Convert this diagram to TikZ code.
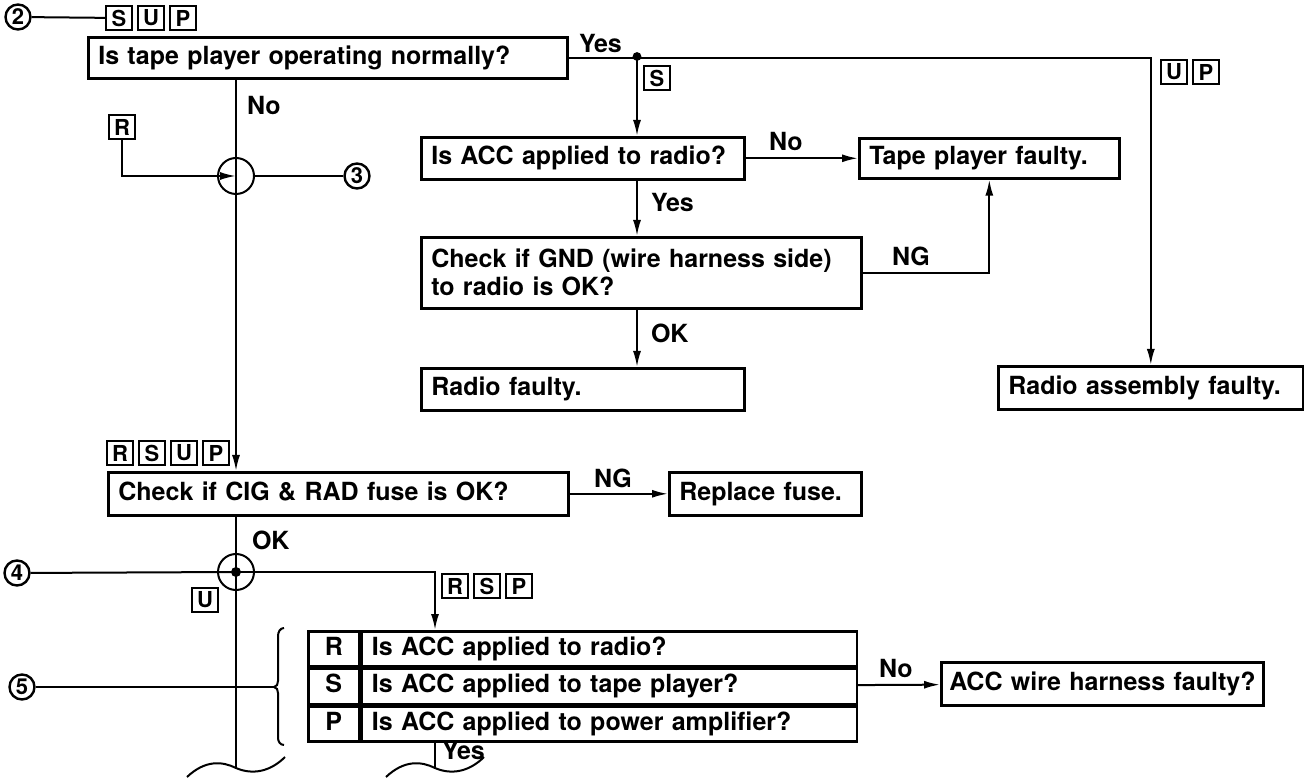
\documentclass[tikz,border=0pt]{standalone}
\usepackage{fontspec}
\setmainfont{TeX Gyre Heros}
\usepackage{tikz}
\usetikzlibrary{positioning,arrows.meta}

\tikzset{
  box/.style={draw,line width=1.3pt,anchor=north west,align=left,inner xsep=5pt,inner ysep=0pt,
    font=\fontsize{12.5}{14}\selectfont\bfseries},
  onel/.style={text height=9pt,text depth=2.7pt},
  cell/.style={draw,line width=1.3pt,anchor=north west,minimum width=25.5pt,minimum height=17.5pt,
    inner sep=0pt,onel,font=\fontsize{12.5}{14}\selectfont\bfseries},
  cellq/.style={box,onel,text width=237.5pt,minimum height=17.5pt},
  tag/.style={draw,line width=1pt,minimum width=13pt,minimum height=12pt,inner sep=0pt,
    font=\fontsize{11}{11}\selectfont\bfseries},
  numc/.style={circle,draw,line width=1.2pt,minimum size=12.5pt,inner sep=0pt,
    font=\fontsize{11}{11}\selectfont\bfseries},
  lbl/.style={inner sep=0pt,font=\fontsize{12.5}{14}\selectfont\bfseries},
  jn/.style={circle,draw,line width=1pt,minimum size=18pt,inner sep=0pt},
  >={Latex[length=8pt,width=4pt]}
}

\begin{document}
\begin{tikzpicture}[x=0.5pt,y=-0.5pt,line width=1pt]
  \useasboundingbox (0,0) rectangle (1304,779);
  \node[numc] (n2) at (18,17) {2};
  \node[tag,anchor=west] (s1) at (105,18) {S};
  \node[tag,right=2pt of s1] (u1) {U};
  \node[tag,right=2pt of u1] (p1) {P};
  \draw (n2) -- (s1);
  \node[box,onel,text width=229.5pt,minimum height=20.5pt] (qplay) at (87,36) {Is tape player operating normally?};
  \node[lbl,anchor=west] (no1) at (246,106) {No};
  \node[tag] (r1) at (122,127) {R};
  \node[jn] (j1) at (236,176) {};
  \node[numc] (n3) at (357,176) {3};
  \draw[->] (r1) |- (j1.center);
  \draw (j1) -- (n3);
  \coordinate (dotS) at (637,56.5);
  \node[lbl,anchor=south west] (yes1) at (578,54) {Yes};
  \node[tag] (s2) at (657,78) {S};
  \node[tag] (u2) at (1174,72) {U};
  \node[tag,right=2pt of u2] (p2) {P};
  \node[box,onel,text width=151.5pt,minimum height=21pt] (qacc) at (420,136) {Is ACC applied to radio?};
  \node[box,onel,text width=120pt,minimum height=20pt] (ftape) at (858,137) {Tape player faulty.};
  \node[lbl,anchor=south west] (no2) at (768,152) {No};
  \node[lbl,anchor=west] (yes2) at (650,203) {Yes};
  \node[box,text width=210pt,minimum height=35.5pt] (qgnd) at (420,236) {Check if GND (wire harness side)\\to radio is OK?};
  \node[lbl,anchor=south west] (ng1) at (891,267) {NG};
  \node[lbl,anchor=west] (ok1) at (650,333) {OK};
  \node[box,onel,text width=151.5pt,minimum height=21pt] (frad) at (420,367) {Radio faulty.};
  \node[box,onel,text width=142.5pt,minimum height=21.5pt] (fasm) at (997,365) {Radio assembly faulty.};
  \draw[->] (qplay.east) -| (fasm.north);
  \fill (dotS) circle (2.2pt);
  \draw[->] (dotS) -- (dotS |- qacc.north);
  \draw[->] (qacc) -- (ftape);
  \draw[->] (dotS |- qacc.south) -- (dotS |- qgnd.north);
  \draw[->] (qgnd.east) -| (ftape.south);
  \draw[->] (dotS |- qgnd.south) -- (dotS |- frad.north);
  \node[tag,anchor=west] (r2) at (106,453) {R};
  \node[tag,right=2pt of r2] (s3) {S};
  \node[tag,right=2pt of s3] (u3) {U};
  \node[tag,right=2pt of u3] (p3) {P};
  \node[box,onel,text width=220pt,minimum height=21.5pt] (qcig) at (107,471) {Check if CIG \& RAD fuse is OK?};
  \node[box,onel,text width=86pt,minimum height=21.5pt] (frep) at (668,471) {Replace fuse.};
  \draw[->] (qplay.south -| j1) -- (qcig.north -| j1);
  \draw[->] (qcig) -- (frep);
  \node[lbl,anchor=south west] (ng2) at (593,489) {NG};
  \node[lbl,anchor=west] (ok2) at (251,540) {OK};
  \node[jn] (j2) at (236,572) {};
  \fill (j2) circle (2.5pt);
  \coordinate (wv1) at (236,768);
  \draw (qcig.south -| j2) -- (wv1);
  \node[numc] (n4) at (17,573) {4};
  \draw (n4) -- (j2.center);
  \coordinate (tin) at (435,630);
  \draw[->] (j2.center) -| (tin);
  \node[tag,anchor=west] (r3) at (441,586) {R};
  \node[tag,right=2pt of r3] (s4) {S};
  \node[tag,right=2pt of s4] (p4) {P};
  \node[tag] (u4) at (205,600) {U};
  \node[cell] (cr) at (307,630) {R};
  \node[cellq,right=0pt of cr] (qr) {Is ACC applied to radio?};
  \node[cell,below=0pt of cr] (cs) {S};
  \node[cellq,right=0pt of cs] (qs) {Is ACC applied to tape player?};
  \node[cell,below=0pt of cs] (cp) {P};
  \node[cellq,right=0pt of cp] (qp) {Is ACC applied to power amplifier?};
  \node[box,onel,inner xsep=4pt,text width=153pt,minimum height=21.5pt] (facc) at (940,661) {\mbox{ACC wire harness faulty?}};
  \draw[->] (qs) -- (facc);
  \node[lbl,anchor=south west] (no3) at (878,679) {No};
  \node[numc] (n5) at (22,687) {5};
  \coordinate (brc) at (274,687);
  \draw (n5) -- (brc);
  \draw (284,628) to[out=180,in=90] (278,636) -- (278,681) to[out=-90,in=0] (brc)
    to[out=0,in=90] (278,693) -- (278,738) to[out=-90,in=180] (284,745);
  \coordinate (wv2) at (435,768);
  \draw (qp.south -| wv2) -- (wv2);
  \node[lbl,anchor=north west] (yes3) at (441,740) {Yes};
  \draw (187,777) .. controls (205,760) and (222,761) .. (wv1) .. controls (252,775) and (270,772) .. (285,757);
  \draw (386,777) .. controls (404,760) and (421,761) .. (wv2) .. controls (451,775) and (469,772) .. (484,757);
\end{tikzpicture}
\end{document}
